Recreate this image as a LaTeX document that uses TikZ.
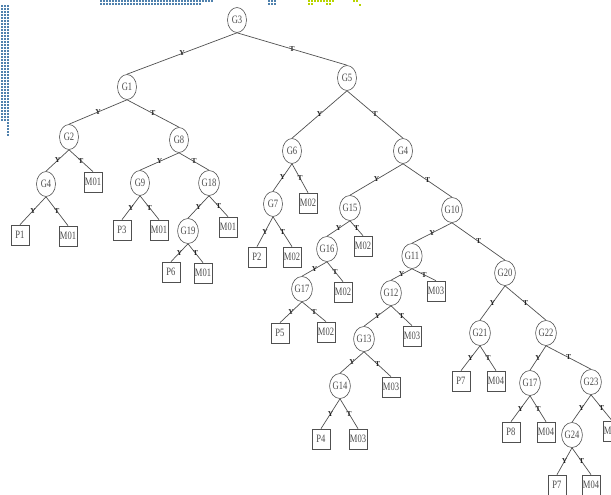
\documentclass[tikz,border=0pt]{standalone}
\usepackage{fontspec}
\setmainfont{Liberation Serif}
\usepackage{graphicx}
\usetikzlibrary{shapes.geometric}
\definecolor{linec}{HTML}{505050}
\definecolor{txtc}{HTML}{4A4A4A}
\definecolor{dotblue}{HTML}{4F81AD}
\definecolor{dotgreen}{HTML}{B8D400}
\newcommand\stx[1]{\scalebox{0.95}[1.25]{#1}}
\tikzset{
  gnode/.style={ellipse, draw=linec, line width=0.6pt, minimum width=19pt, minimum height=25pt, inner sep=0pt, text=txtc, font=\fontsize{9}{9}\selectfont},
  leaf/.style={rectangle, draw=linec, line width=0.7pt, minimum width=18pt, minimum height=20pt, inner sep=1pt, text=txtc, font=\fontsize{9}{9}\selectfont},
  edgeline/.style={draw=linec, line width=0.7pt},
  elab/.style={font=\fontsize{7.5}{7.5}\selectfont\bfseries, inner sep=0pt, text=black!85},
  bdot/.style={fill=dotblue, draw=none},
  gdot/.style={fill=dotgreen, draw=none}
}
\newcommand\edg[3]{\draw[edgeline] (#1.south) -- node[elab]{#3} (#2.north);}
\begin{document}
\begin{tikzpicture}[x=1pt, y=-1pt]
\useasboundingbox (0,0) rectangle (611,495);
\clip (0,0) rectangle (611,495);
% background decoration (dot strips)
\foreach \xx in {100,103,...,211} {\fill[bdot] (\xx,0) rectangle ++(2,2);}
\foreach \xx in {100,103,...,199} {\fill[bdot] (\xx,3) rectangle ++(2,2);}
\foreach \xx in {268,271,274} {\foreach \yy in {0,3} {\fill[bdot] (\xx,\yy) rectangle ++(2,2);}}
\foreach \yy in {5,8,...,120} {\foreach \xx in {1,4,7} {\fill[bdot] (\xx,\yy) rectangle ++(2,2);}}
\foreach \yy in {122,125,...,134} {\fill[bdot] (7,\yy) rectangle ++(2,2);}
\foreach \xx in {308,311,...,332} {\fill[gdot] (\xx,0) rectangle ++(2,2);}
\foreach \xx in {308,311,326,329} {\fill[gdot] (\xx,3) rectangle ++(2,2);}
\foreach \xx in {353,356} {\fill[gdot] (\xx,0) rectangle ++(2,2);}
\fill[gdot] (359,4) rectangle ++(2,2);
% inner nodes
\node[gnode] (G3) at (237,20) {\stx{G3}};
\node[gnode] (G1) at (127,87) {\stx{G1}};
\node[gnode] (G5) at (347,78) {\stx{G5}};
\node[gnode] (G2) at (69,137) {\stx{G2}};
\node[gnode] (G8) at (179,140) {\stx{G8}};
\node[gnode] (G4a) at (46,184) {\stx{G4}};
\node[gnode] (G9) at (140,183) {\stx{G9}};
\node[gnode] (G18) at (209,183) {\stx{G18}};
\node[gnode] (G19) at (188,231) {\stx{G19}};
\node[gnode] (G6) at (292,151) {\stx{G6}};
\node[gnode] (G4b) at (403,151) {\stx{G4}};
\node[gnode] (G7) at (273,204) {\stx{G7}};
\node[gnode] (G15) at (350,208) {\stx{G15}};
\node[gnode] (G16) at (327,249) {\stx{G16}};
\node[gnode] (G10) at (452,210) {\stx{G10}};
\node[gnode] (G11) at (412,256) {\stx{G11}};
\node[gnode] (G17a) at (302,289) {\stx{G17}};
\node[gnode] (G12) at (391,293) {\stx{G12}};
\node[gnode] (G13) at (364,339) {\stx{G13}};
\node[gnode] (G14) at (340,386) {\stx{G14}};
\node[gnode] (G20) at (505,273) {\stx{G20}};
\node[gnode] (G21) at (480,333) {\stx{G21}};
\node[gnode] (G22) at (546,333) {\stx{G22}};
\node[gnode] (G17b) at (530,383) {\stx{G17}};
\node[gnode] (G23) at (591,382) {\stx{G23}};
\node[gnode] (G24) at (572,435) {\stx{G24}};
% leaves
\node[leaf] (M01a) at (93,182) {\stx{M01}};
\node[leaf] (P1) at (20,235) {\stx{P1}};
\node[leaf] (M01b) at (68,236) {\stx{M01}};
\node[leaf] (P3) at (122,230) {\stx{P3}};
\node[leaf] (M01c) at (159,230) {\stx{M01}};
\node[leaf] (M01d) at (228,227) {\stx{M01}};
\node[leaf] (P6) at (171,272) {\stx{P6}};
\node[leaf] (M01e) at (203,273) {\stx{M01}};
\node[leaf] (M02a) at (308,203) {\stx{M02}};
\node[leaf] (P2) at (257,257) {\stx{P2}};
\node[leaf] (M02b) at (292,257) {\stx{M02}};
\node[leaf] (M02c) at (363,246) {\stx{M02}};
\node[leaf] (M02d) at (343,292) {\stx{M02}};
\node[leaf] (P5) at (280,333) {\stx{P5}};
\node[leaf] (M02e) at (326,332) {\stx{M02}};
\node[leaf] (M03a) at (436,291) {\stx{M03}};
\node[leaf] (M03b) at (412,336) {\stx{M03}};
\node[leaf] (M03c) at (391,387) {\stx{M03}};
\node[leaf] (P4) at (321,439) {\stx{P4}};
\node[leaf] (M03d) at (358,439) {\stx{M03}};
\node[leaf] (P7a) at (461,381) {\stx{P7}};
\node[leaf] (M04a) at (496,381) {\stx{M04}};
\node[leaf] (P8) at (511,432) {\stx{P8}};
\node[leaf] (M04b) at (546,432) {\stx{M04}};
\node[leaf] (M04c) at (612,431) {\stx{M04}};
\node[leaf] (P7b) at (557,485) {\stx{P7}};
\node[leaf] (M04d) at (591,485) {\stx{M04}};
% edges
\edg{G3}{G1}{Y} \edg{G3}{G5}{T}
\edg{G1}{G2}{Y} \edg{G1}{G8}{T}
\edg{G2}{G4a}{Y} \edg{G2}{M01a}{T}
\edg{G4a}{P1}{Y} \edg{G4a}{M01b}{T}
\edg{G8}{G9}{Y} \edg{G8}{G18}{T}
\edg{G9}{P3}{Y} \edg{G9}{M01c}{T}
\edg{G18}{G19}{Y} \edg{G18}{M01d}{T}
\edg{G19}{P6}{Y} \edg{G19}{M01e}{T}
\edg{G5}{G6}{Y} \edg{G5}{G4b}{T}
\edg{G6}{G7}{Y} \edg{G6}{M02a}{T}
\edg{G7}{P2}{Y} \edg{G7}{M02b}{T}
\edg{G4b}{G15}{Y} \edg{G4b}{G10}{T}
\edg{G15}{G16}{Y} \edg{G15}{M02c}{T}
\edg{G16}{G17a}{Y} \edg{G16}{M02d}{T}
\edg{G17a}{P5}{Y} \edg{G17a}{M02e}{T}
\edg{G10}{G11}{Y} \edg{G10}{G20}{T}
\edg{G11}{G12}{Y} \edg{G11}{M03a}{T}
\edg{G12}{G13}{Y} \edg{G12}{M03b}{T}
\edg{G13}{G14}{Y} \edg{G13}{M03c}{T}
\edg{G14}{P4}{Y} \edg{G14}{M03d}{T}
\edg{G20}{G21}{Y} \edg{G20}{G22}{T}
\edg{G21}{P7a}{Y} \edg{G21}{M04a}{T}
\edg{G22}{G17b}{Y} \edg{G22}{G23}{T}
\edg{G17b}{P8}{Y} \edg{G17b}{M04b}{T}
\edg{G23}{G24}{Y} \edg{G23}{M04c}{T}
\edg{G24}{P7b}{Y} \edg{G24}{M04d}{T}
\end{tikzpicture}
\end{document}
